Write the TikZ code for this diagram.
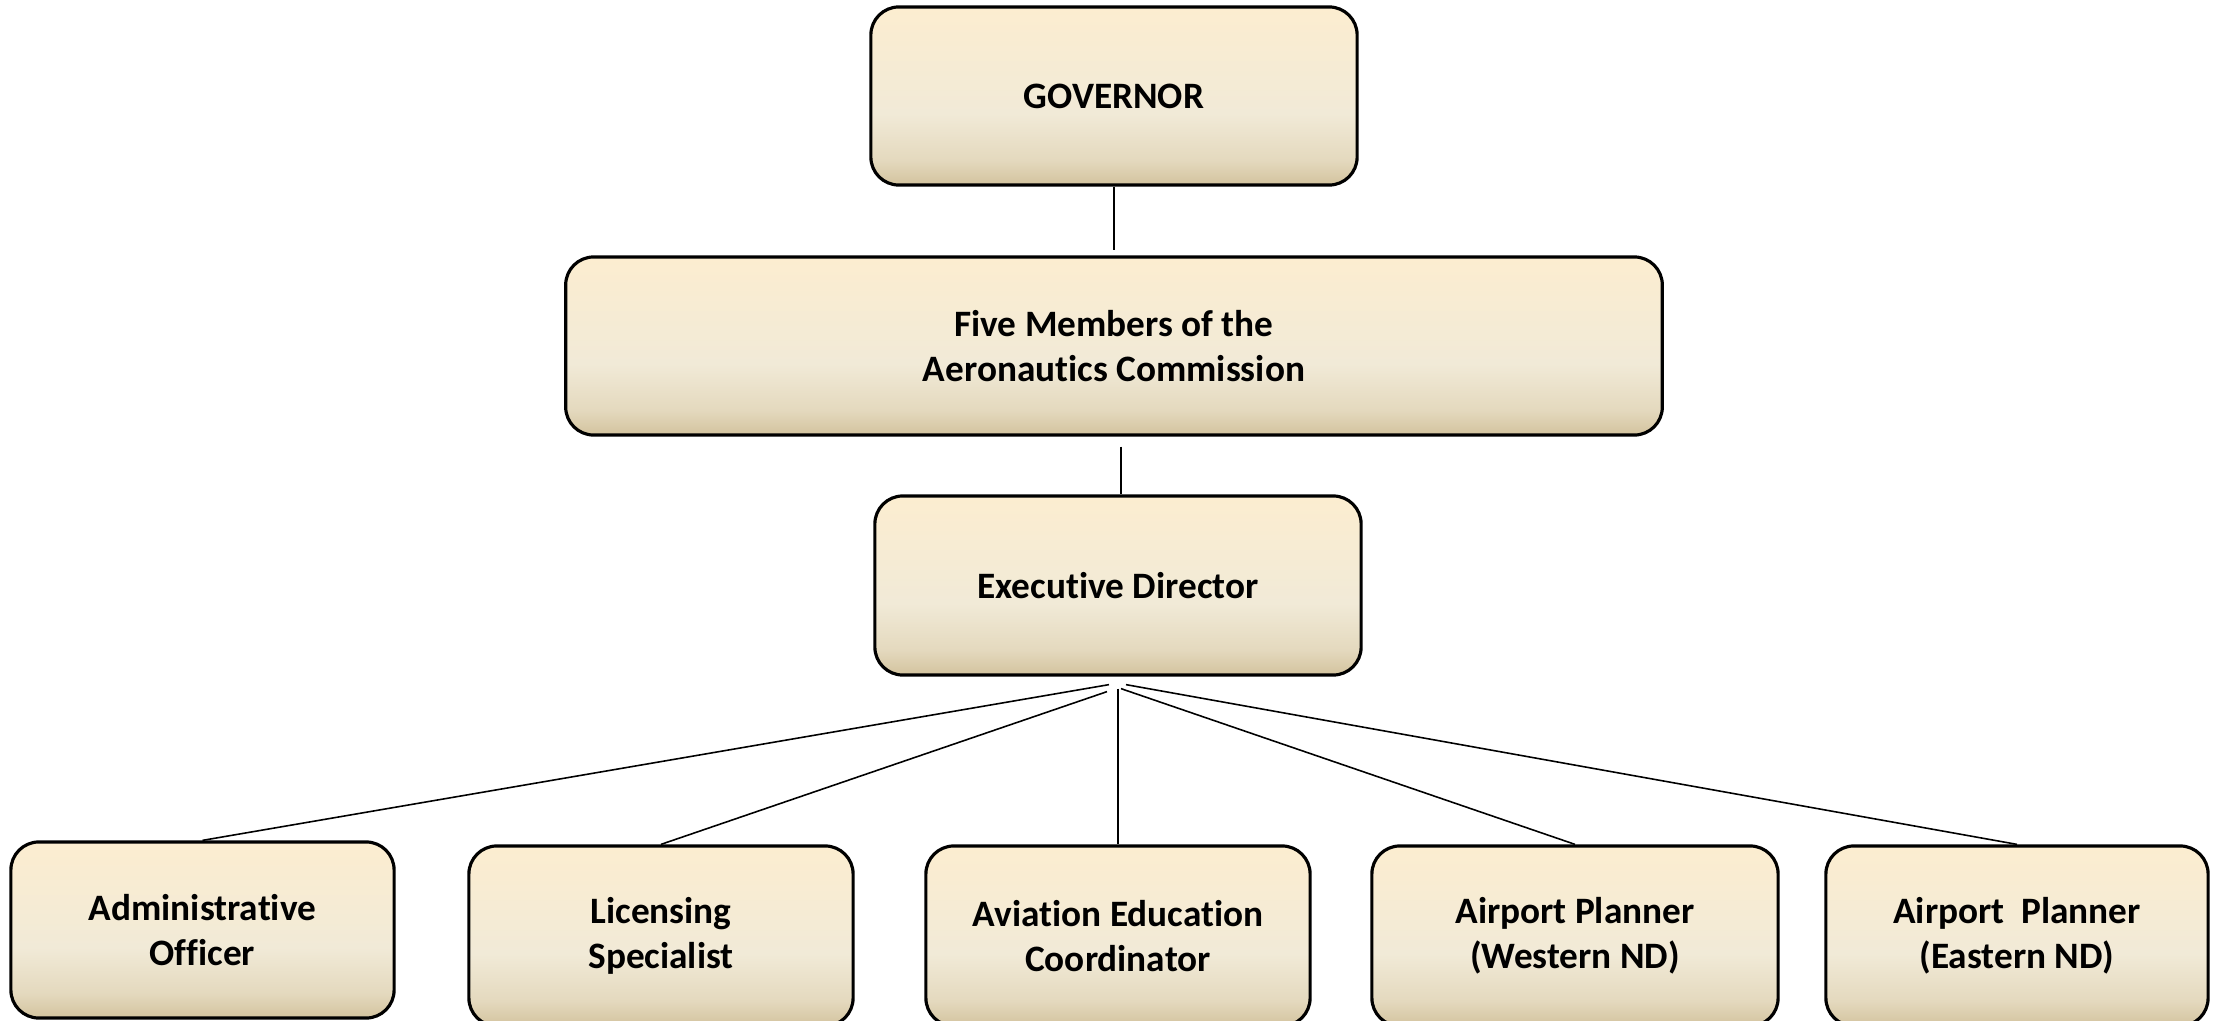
\documentclass[tikz,border=0pt]{standalone}
\usepackage{fontspec}
\setmainfont[Ligatures={NoCommon}]{Carlito}
\definecolor{shA}{RGB}{252,237,208}
\definecolor{shB}{RGB}{241,234,215}
\definecolor{shC}{RGB}{228,217,190}
\definecolor{shD}{RGB}{211,195,158}
\pgfdeclareverticalshading{boxshade}{100bp}{color(0bp)=(shD); color(25bp)=(shD); color(32bp)=(shC); color(45bp)=(shB); color(75bp)=(shA); color(100bp)=(shA)}
\tikzset{
  orgbox/.style={draw=black, line width=0.9pt, rounded corners=0.28cm, shading=boxshade,
    align=center, inner sep=0pt, font=\fontsize{10.6}{12.8}\selectfont\bfseries},
  lowbox/.style={orgbox, minimum height=1.80cm},
  link/.style={draw=black, line width=0.45pt}
}
\begin{document}
\begin{tikzpicture}[x=0.01cm, y=-0.01cm]
\useasboundingbox (0,0) rectangle (2214,1021);
\node[orgbox, minimum width=4.86cm, minimum height=1.78cm] (gov) at (1114,96) {GOVERNOR};
\node[orgbox, minimum width=10.96cm, minimum height=1.78cm] (comm) at (1114,346) {Five Members of the\\Aeronautics Commission};
\node[orgbox, minimum width=4.86cm, minimum height=1.79cm] (exec) at (1118,585.5) {Executive Director};
\node[orgbox, minimum width=3.83cm, minimum height=1.76cm] (admin) at (202.5,930) {Administrative\\Officer};
\node[lowbox, minimum width=3.84cm] (lic) at (661,936) {Licensing\\Specialist};
\node[lowbox, minimum width=3.84cm] (avi) at (1118,936) {Aviation Education\\Coordinator};
\node[lowbox, minimum width=4.06cm] (west) at (1575,936) {Airport Planner\\(Western ND)};
\node[lowbox, minimum width=3.82cm] (east) at (2017,936) {Airport\ \ Planner\\(Eastern ND)};
\draw[link, shorten >=0.05cm] (gov.south) -- (gov.south |- comm.north);
\draw[link, shorten <=0.1cm] ([xshift=0.03cm]exec.north |- comm.south) -- ([xshift=0.03cm]exec.north);
\coordinate (f1) at ([shift={(-9,8)}]exec.south);
\coordinate (f2) at ([shift={(-11,15)}]exec.south);
\coordinate (f3) at ([shift={(0,12)}]exec.south);
\coordinate (f4) at ([shift={(3,12)}]exec.south);
\coordinate (f5) at ([shift={(8,8)}]exec.south);
\draw[link] (f1) -- (admin.north);
\draw[link] (f2) -- (lic.north);
\draw[link] (f3) -- (avi.north);
\draw[link] (f4) -- (west.north);
\draw[link] (f5) -- (east.north);
\end{tikzpicture}
\end{document}
